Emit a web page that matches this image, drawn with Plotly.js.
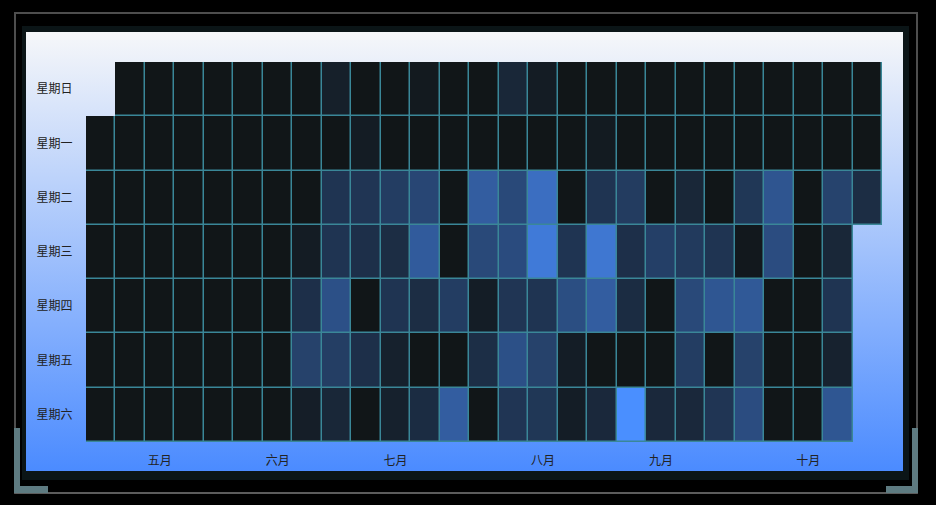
<!DOCTYPE html>
<html>
<head>
<meta charset="utf-8">
<script src="https://cdn.plot.ly/plotly-3.0.1.min.js"></script>
<style>
  html, body { margin:0; padding:0; background:#000; width:936px; height:505px; overflow:hidden; }
  .outer { position:absolute; left:14px; top:12px; width:900px; height:478px; border:2px solid #4e4e4e; border-bottom-color:#5c5c5c; }
  .ring { position:absolute; left:22px; top:26px; width:887px; height:454px; background:#0b1517; }
  .panel { position:absolute; left:26px; top:32px; width:877px; height:439px;
           background:linear-gradient(to bottom, #f6f7f9 0%, #4b8bff 100%); }
  .cl1 { position:absolute; left:14px; top:428px; width:6px; height:65px; background:#5e7b81; }
  .cl2 { position:absolute; left:14px; top:486px; width:34px; height:7px; background:#5e7b81; }
  .cr1 { position:absolute; left:912px; top:428px; width:6px; height:65px; background:#5e7b81; }
  .cr2 { position:absolute; left:886px; top:486px; width:32px; height:7px; background:#5e7b81; }
  #chart { position:absolute; left:0; top:0; width:936px; height:505px; }
</style>
</head>
<body>
<div class="outer"></div>
<div class="cl1"></div><div class="cl2"></div><div class="cr1"></div><div class="cr2"></div>
<div class="ring"></div>
<div class="panel"></div>
<div id="chart"></div>
<script>
// ---- data ----
const weekdays = ['星期日','星期一','星期二','星期三','星期四','星期五','星期六'];
const weeks = [0,1,2,3,4,5,6,7,8,9,10,11,12,13,14,15,16,17,18,19,20,21,22,23,24,25,26];
const monthLabels = ['五月','六月','七月','八月','九月','十月'];
const monthWeeks = [2,6,10,15,19,24];

const sun = [null,0,0,0,0,0,0,0,8,0,0,3,0,0,14,5,0,0,0,0,0,0,0,0,0,0,0];
const mon = [0,0,0,0,0,0,0,0,0,5,0,0,0,0,0,0,0,4,0,0,0,0,0,0,0,0,0];
const tue = [0,0,0,0,0,0,0,0,25,26,32,40,0,59,42,73,0,25,31,0,14,0,27,52,0,37,19];
const wed = [0,0,0,0,0,0,0,5,25,21,19,57,0,42,44,83,25,80,21,34,30,25,2,45,0,14,null];
const thu = [0,0,0,0,0,0,0,21,48,0,25,19,32,6,26,25,46,59,18,0,42,53,55,0,0,25,null];
const fri = [0,0,0,0,0,0,0,36,33,21,9,0,0,20,48,36,6,0,0,0,32,0,36,0,0,10,null];
const sat = [0,0,0,0,0,0,0,7,14,0,9,18,59,0,26,27,6,15,100,15,15,26,45,0,0,53,null];

const zData = [sun, mon, tue, wed, thu, fri, sat];
const zBorder = zData.map(r => r.map(v => v === null ? null : 1));

const font = {family:'"Noto Sans CJK SC", "Noto Sans", sans-serif', size:12, color:'#222'};

const traces = [
  { type:'heatmap', x:weeks, y:weekdays, z:zBorder,
    colorscale:[[0,'#3a8798'],[1,'#3a8798']], showscale:false, hoverinfo:'skip' },
  { type:'heatmap', x:weeks, y:weekdays, z:zData, zmin:0, zmax:100,
    colorscale:[[0,'#111618'],[1,'#4a8fff']], showscale:false,
    xgap:1.5, ygap:1.5, hoverinfo:'skip' }
];

const layout = {
  width:936, height:505,
  margin:{l:86, r:54, t:62, b:63, pad:0},
  paper_bgcolor:'rgba(0,0,0,0)', plot_bgcolor:'rgba(0,0,0,0)',
  font: font,
  xaxis:{ range:[-0.5,26.5], tickvals:monthWeeks, ticktext:monthLabels,
          ticks:'outside', ticklen:8, tickcolor:'rgba(0,0,0,0)',
          showgrid:false, zeroline:false, showline:false, fixedrange:true, tickfont:font },
  yaxis:{ type:'category', autorange:'reversed',
          ticks:'outside', ticklen:10, tickcolor:'rgba(0,0,0,0)',
          showgrid:false, zeroline:false, showline:false, fixedrange:true, tickfont:font },
  showlegend:false
};

Plotly.newPlot('chart', traces, layout, {displayModeBar:false, staticPlot:true});
</script>
</body>
</html>
